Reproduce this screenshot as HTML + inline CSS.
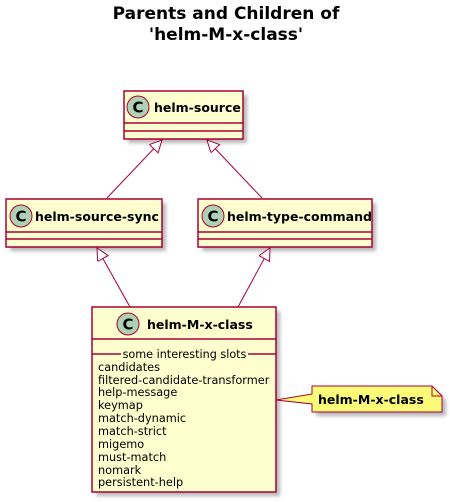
<!DOCTYPE html>
<html><head><meta charset="utf-8"><style>
html,body{margin:0;padding:0;background:#fff;}
svg{display:block;font-family:"DejaVu Sans","Liberation Sans",sans-serif;}
</style></head><body>
<svg width="452" height="502" viewBox="0 0 452 502" xmlns="http://www.w3.org/2000/svg">
<defs>
<filter id="sh" x="-10%" y="-10%" width="130%" height="130%"><feGaussianBlur stdDeviation="1.8"/></filter>
<marker id="ar" markerUnits="userSpaceOnUse" markerWidth="14" markerHeight="14" refX="13" refY="6" orient="auto"><path d="M1,0 L13,6 L1,12 Z" fill="#fff" stroke="#A80036" stroke-width="1"/></marker>
</defs>
<text x="226" y="19" text-anchor="middle" font-size="17" font-weight="bold">Parents and Children of</text>
<text x="226" y="40" text-anchor="middle" font-size="17" font-weight="bold">'helm-M-x-class'</text>

<g fill="#888" opacity="0.6" filter="url(#sh)">
<rect x="128" y="95" width="119" height="48"/>
<rect x="10" y="203" width="156" height="48"/>
<rect x="202" y="203" width="174" height="48"/>
<rect x="96" y="311" width="184" height="185"/>
<path d="M316,390 L436,390 L446,400 L446,416 L316,416 Z"/>
</g>

<g stroke="#A80036" stroke-width="1" fill="none">
<line x1="107" y1="198" x2="162" y2="140" marker-end="url(#ar)"/>
<line x1="262" y1="198" x2="207" y2="140" marker-end="url(#ar)"/>
<line x1="130" y1="307" x2="97" y2="248" marker-end="url(#ar)"/>
<line x1="238" y1="307" x2="270" y2="248" marker-end="url(#ar)"/>
</g>

<g stroke="#A80036" stroke-width="1.5" fill="#FEFECE">
<rect x="124" y="91" width="119" height="48"/>
<line x1="124" y1="123" x2="243" y2="123"/>
<line x1="124" y1="131" x2="243" y2="131"/>
<rect x="6" y="199" width="156" height="48"/>
<line x1="6" y1="232" x2="162" y2="232"/>
<line x1="6" y1="239" x2="162" y2="239"/>
<rect x="198" y="199" width="174" height="48"/>
<line x1="198" y1="232" x2="372" y2="232"/>
<line x1="198" y1="239" x2="372" y2="239"/>
<rect x="92" y="307" width="184" height="185"/>
<line x1="92" y1="339" x2="276" y2="339"/>
<line x1="92" y1="354" x2="121" y2="354"/>
<line x1="248" y1="354" x2="276" y2="354"/>
</g>

<g fill="#ADD1B2" stroke="#A80036" stroke-width="1">
<circle cx="138" cy="107" r="11"/>
<circle cx="21" cy="216" r="11"/>
<circle cx="213" cy="216" r="11"/>
<circle cx="128" cy="324" r="11"/>
</g>
<g font-size="15" font-weight="bold" text-anchor="middle" fill="#000">
<text x="138" y="112.5">C</text>
<text x="21" y="221.5">C</text>
<text x="213" y="221.5">C</text>
<text x="128" y="329.5">C</text>
</g>
<g font-size="12.5" font-weight="bold" fill="#000">
<text x="154" y="112">helm-source</text>
<text x="35" y="221">helm-source-sync</text>
<text x="227" y="221">helm-type-command</text>
<text x="147" y="329">helm-M-x-class</text>
</g>
<text x="184.5" y="358" text-anchor="middle" font-size="11.2">some interesting slots</text>
<g font-size="11.3" fill="#000">
<text x="98" y="371">candidates</text>
<text x="98" y="384">filtered-candidate-transformer</text>
<text x="98" y="396">help-message</text>
<text x="98" y="409">keymap</text>
<text x="98" y="422">match-dynamic</text>
<text x="98" y="435">match-strict</text>
<text x="98" y="448">migemo</text>
<text x="98" y="461">must-match</text>
<text x="98" y="474">nomark</text>
<text x="98" y="486">persistent-help</text>
</g>

<path d="M312,386 L432,386 L442,396 L442,412 L312,412 L312,404 L276,400 L312,394 Z" fill="#FBFB77" stroke="#A80036" stroke-width="1"/>
<path d="M432,386 L432,396 L442,396" fill="none" stroke="#A80036" stroke-width="1"/>
<text x="318" y="404" font-size="12.5" font-weight="bold">helm-M-x-class</text>
</svg>
</body></html>
